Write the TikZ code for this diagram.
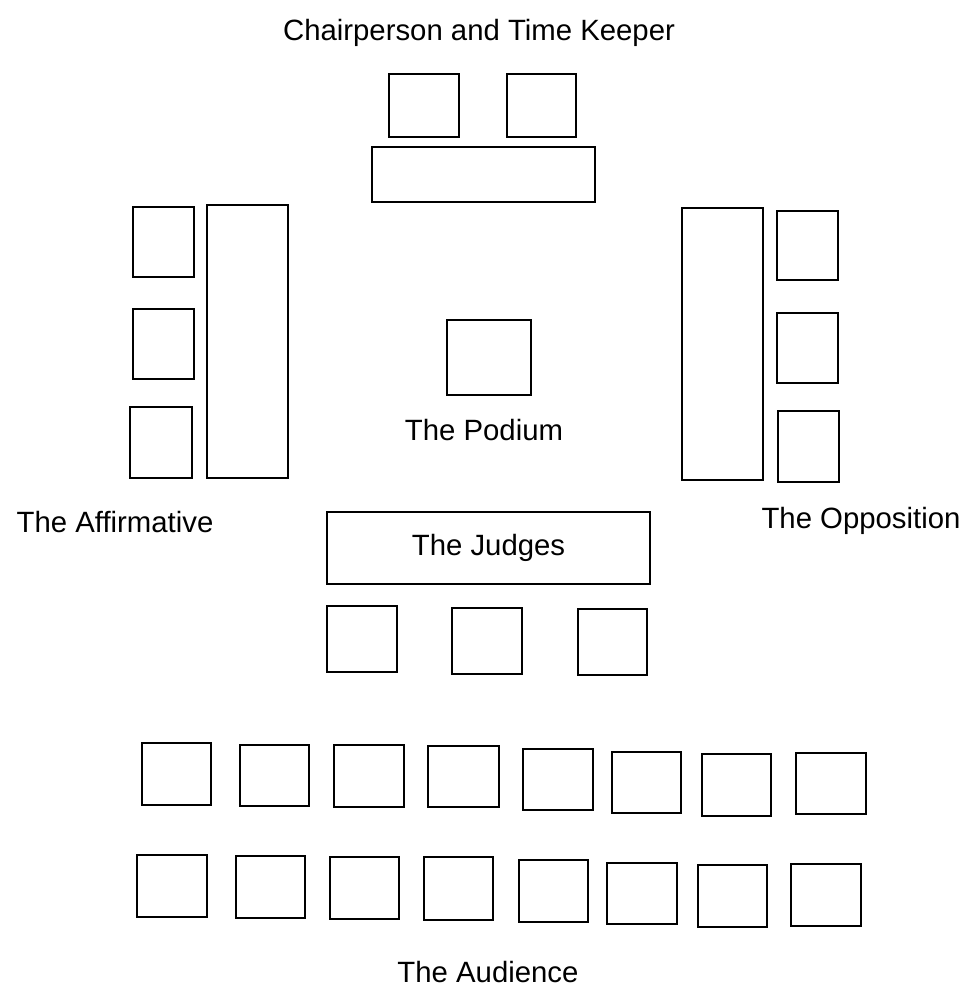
\documentclass[tikz,border=0pt]{standalone}
\usepackage{fontspec}
\setmainfont{Liberation Sans}
\usetikzlibrary{positioning}
\newcommand{\px}{0.75pt}

\begin{document}
\begin{tikzpicture}[x=0.75pt, y=-0.75pt,
    seat/.style={draw, line width=1.3pt, inner sep=0pt, minimum width=69*\px, minimum height=62*\px},
    sideseat/.style={seat, minimum width=61*\px, minimum height=70*\px},
    bench/.style={draw, line width=1.3pt, inner sep=0pt, minimum width=81*\px, minimum height=273*\px},
    lbl/.style={font=\fontsize{22}{26}\selectfont, inner sep=0pt, anchor=base}
]
\useasboundingbox (0,0) rectangle (971,992);

% chairperson and time keeper
\node[lbl] (title) at (479,40) {Chairperson and Time Keeper};
\node[seat, minimum width=70*\px, minimum height=63*\px] (chair) at (424,105.5) {};
\node[seat, minimum height=63*\px] (keeper) at (541.5,105.5) {};
\node[draw, line width=1.3pt, minimum width=223*\px, minimum height=55*\px] (desk) at (483.5,174.5) {};

% affirmative side
\node[sideseat] (aff1) at (163.5,242) {};
\node[sideseat] (aff2) at (163.5,344) {};
\node[sideseat, minimum width=62*\px, minimum height=71*\px] (aff3) at (161,442.5) {};
\node[bench] (afftable) at (247.5,341.5) {};
\node[lbl] (afflbl) at (115,532) {The Affirmative};

% opposition side
\node[bench, minimum height=272*\px] (opptable) at (722.5,344) {};
\node[sideseat, minimum height=69*\px] (opp1) at (807.5,245.5) {};
\node[sideseat] (opp2) at (807.5,348) {};
\node[sideseat, minimum height=71*\px] (opp3) at (808.5,446.5) {};
\node[lbl] (opplbl) at (861,528) {The Opposition};

% podium
\node[draw, line width=1.3pt, minimum width=84*\px, minimum height=75*\px] (podium) at (489,357.5) {};
\node[lbl] (podlbl) at (484,440) {The Podium};

% judges
\node[draw, line width=1.3pt, minimum width=323*\px, minimum height=72*\px,
      font=\fontsize{22}{26}\selectfont] (judges) at (488.5,548) {The Judges\hspace{6pt}};
\node[seat, minimum width=70*\px, minimum height=66*\px] (judge1) at (362,639) {};
\node[seat, minimum width=70*\px, minimum height=66*\px] (judge2) at (487,641) {};
\node[seat, minimum height=66*\px] (judge3) at (612.5,642) {};

% audience, front row
\node[seat] (front1) at (176.5,774) {};
\node[seat, minimum height=61*\px] (front2) at (274.5,775.5) {};
\node[seat, minimum width=70*\px] (front3) at (369,776) {};
\node[seat, minimum width=71*\px, minimum height=61*\px] (front4) at (463.5,776.5) {};
\node[seat, minimum width=70*\px, minimum height=61*\px] (front5) at (558,779.5) {};
\node[seat, minimum height=61*\px] (front6) at (646.5,782.5) {};
\node[seat] (front7) at (736.5,785) {};
\node[seat, minimum width=70*\px, minimum height=61*\px] (front8) at (831,783.5) {};

% audience, back row
\node[seat, minimum width=70*\px] (back1) at (172,886) {};
\node[seat] (back2) at (270.5,887) {};
\node[seat] (back3) at (364.5,888) {};
\node[seat, minimum height=63*\px] (back4) at (458.5,888.5) {};
\node[seat] (back5) at (553.5,891) {};
\node[seat, minimum width=70*\px, minimum height=61*\px] (back6) at (642,893.5) {};
\node[seat] (back7) at (732.5,896) {};
\node[seat, minimum width=70*\px] (back8) at (826,895) {};
\node[lbl] (audlbl) at (488,982) {The Audience};
\end{tikzpicture}
\end{document}
